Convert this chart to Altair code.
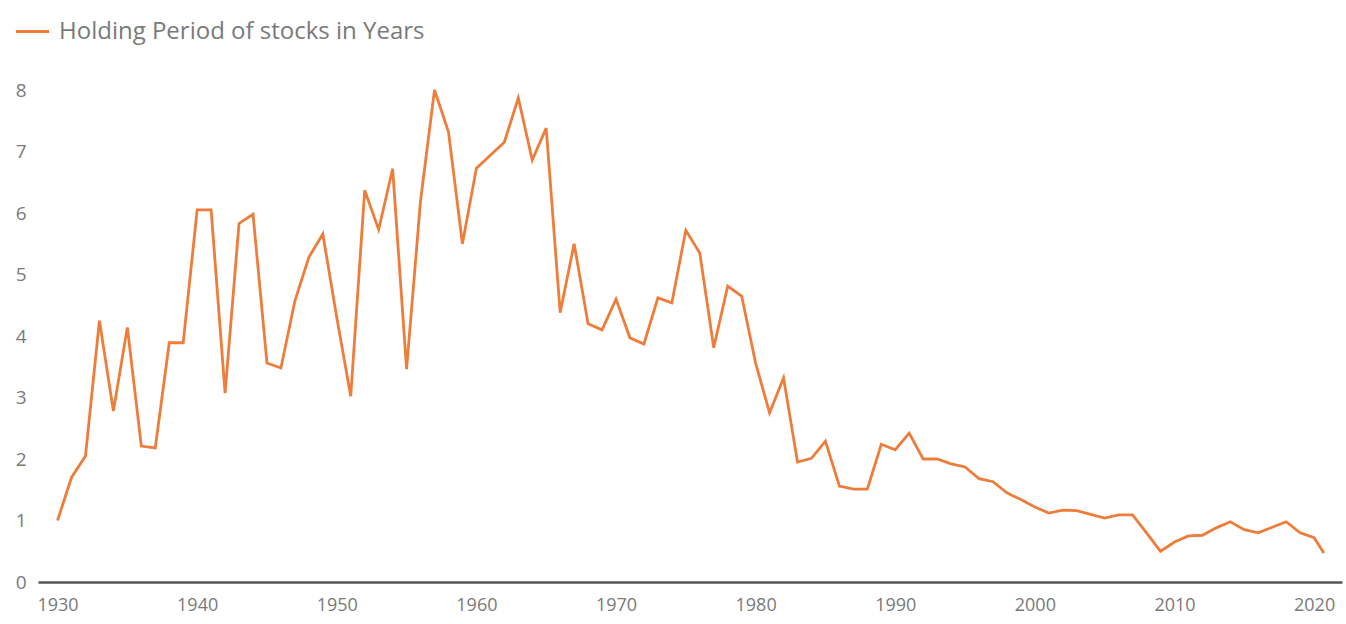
import altair as alt
import pandas as pd

series_name = "Holding Period of stocks in Years"

years = list(range(1930, 2021)) + [2020.7]

values = [
    1.0, 1.7, 2.05, 4.25, 2.78, 4.14, 2.21, 2.18, 3.89, 3.89,      # 1930-1939
    6.05, 6.05, 3.07, 5.83, 5.98, 3.56, 3.48, 4.57, 5.28, 5.66,    # 1940-1949
    4.3, 3.02, 6.37, 5.73, 6.72, 3.46, 6.2, 8.0, 7.32, 5.5,        # 1950-1959
    6.73, 6.94, 7.15, 7.87, 6.86, 7.38, 4.38, 5.5, 4.2, 4.1,       # 1960-1969
    4.6, 3.97, 3.87, 4.62, 4.54, 5.72, 5.35, 3.81, 4.81, 4.65,     # 1970-1979
    3.56, 2.75, 3.32, 1.95, 2.01, 2.29, 1.56, 1.51, 1.51, 2.24,    # 1980-1989
    2.15, 2.42, 2.0, 2.0, 1.92, 1.87, 1.68, 1.63, 1.45, 1.34,      # 1990-1999
    1.22, 1.12, 1.17, 1.16, 1.1, 1.04, 1.09, 1.09, 0.8, 0.5,       # 2000-2009
    0.65, 0.75, 0.76, 0.88, 0.98, 0.85, 0.8, 0.89, 0.98, 0.8,      # 2010-2019
    0.72, 0.47,                                                     # 2020, latest
]

x_ticks = [1930, 1940, 1950, 1960, 1970, 1980, 1990, 2000, 2010, 2020]
y_ticks = [0, 1, 2, 3, 4, 5, 6, 7, 8]

df = pd.DataFrame({"year": years, "value": values, "series": series_name})

line_color = "#ee7d3b"
text_color = "#7a7a7a"
font = "Open Sans"

chart = (
    alt.Chart(df)
    .mark_line(strokeWidth=2.8)
    .encode(
        x=alt.X(
            "year:Q",
            scale=alt.Scale(domain=[1928.6, 2022], nice=False, zero=False),
            axis=alt.Axis(
                values=x_ticks,
                format="d",
                title=None,
                grid=False,
                ticks=False,
                domain=True,
                domainColor="#555555",
                domainWidth=2.5,
                labelColor=text_color,
                labelFont=font,
                labelFontSize=18,
                labelPadding=14,
                labelBaseline="top",
            ),
        ),
        y=alt.Y(
            "value:Q",
            scale=alt.Scale(domain=[0, 8], nice=False),
            axis=alt.Axis(
                values=y_ticks,
                title=None,
                grid=False,
                ticks=False,
                domain=False,
                labelColor=text_color,
                labelFont=font,
                labelFontSize=19,
                labelPadding=12,
            ),
        ),
        color=alt.Color(
            "series:N",
            scale=alt.Scale(domain=[series_name], range=[line_color]),
            legend=alt.Legend(
                title=None,
                orient="none",
                legendX=-24,
                legendY=-77,
                symbolType="stroke",
                symbolSize=1100,
                symbolStrokeWidth=3,
                labelFont=font,
                labelFontSize=24,
                labelColor=text_color,
                labelOffset=8,
                labelLimit=800,
            ),
        ),
    )
    .properties(
        width=1304,
        height=492,
        background="white",
        autosize=alt.AutoSizeParams(type="none"),
        padding={"left": 38, "top": 90, "right": 4, "bottom": 42},
    )
    .configure_view(strokeWidth=0, stroke=None)
)

chart.save("out.html", embed_options={"renderer": "svg", "actions": False})
